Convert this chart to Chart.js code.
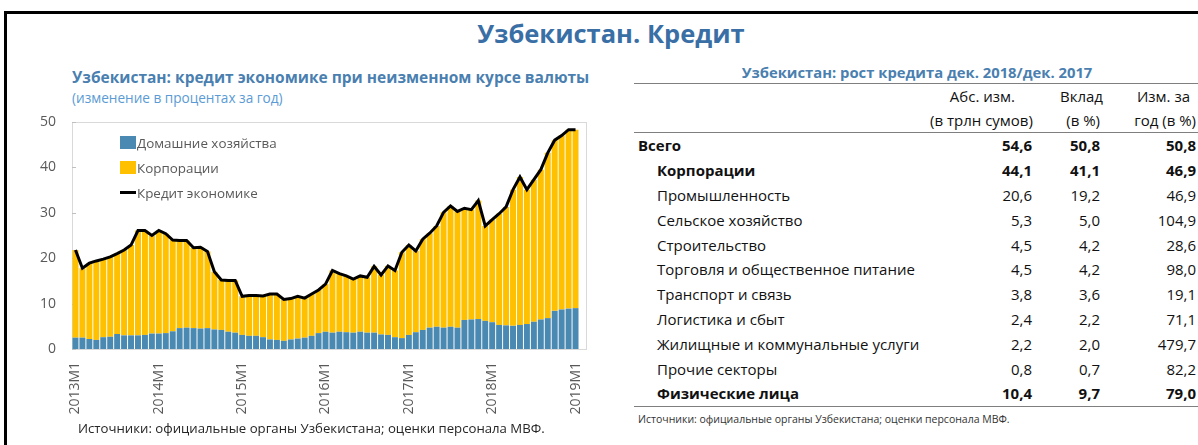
<!DOCTYPE html>
<html lang="ru">
<head>
<meta charset="utf-8">
<title>Узбекистан. Кредит</title>
<script src="https://cdn.jsdelivr.net/npm/chart.js@4.4.0/dist/chart.umd.min.js"></script>
<style>
    html, body { margin: 0; padding: 0; background: #fff; }
    body { width: 1198px; height: 445px; position: relative; overflow: hidden; font-family: "Open Sans", "Noto Sans", sans-serif; }
    #frame { position: absolute; left: 4px; top: 11px; width: 1200px; height: 440px; border-top: 3px solid #000; border-left: 3px solid #000; }
    #mainTitle { position: absolute; left: 0; width: 1222px; top: 16px; text-align: center; font-size: 25.5px; font-weight: bold; color: #3a6fa6; }
    #chartTitle { position: absolute; left: 72px; top: 66px; font-size: 15.5px; font-weight: bold; color: #4a7fb0; white-space: nowrap; }
    #chartSub { position: absolute; left: 72px; top: 88px; font-size: 13.6px; color: #5b9bd5; white-space: nowrap; }
    #chartBox { position: absolute; left: 0; top: 0; width: 600px; height: 445px; }
    #legend { position: absolute; left: 120px; top: 133px; font-size: 13.4px; color: #595959; }
    #legend div { height: 25px; line-height: 20px; white-space: nowrap; }
    #legend span.sw { display: inline-block; width: 16px; height: 13px; vertical-align: -1px; margin-right: 1px; }
    #legend span.ln { display: inline-block; width: 16px; height: 3px; background: #000; vertical-align: 4px; margin-right: 1px; }
    #chartSrc { position: absolute; left: 78px; top: 419px; font-size: 13.2px; color: #262626; white-space: nowrap; }
    #tblTitle { position: absolute; left: 634px; width: 566px; top: 62px; text-align: center; font-size: 14.8px; font-weight: bold; color: #4a7fb0; }
    #tbl { position: absolute; left: 634px; top: 83px; width: 564px; table-layout: fixed; border-collapse: collapse; font-size: 15px; color: #111; }
    #tbl td { padding: 0; height: 24.8px; text-align: right; white-space: nowrap; }
    #tbl thead td { height: 24px; }
    #tbl td.lab { text-align: left; padding-left: 23px; }
    #tbl tr.top td.lab { padding-left: 4px; }
    #tbl tr.b td { font-weight: bold; }
    #tbl tbody td.c2 { padding-right: 3px; }
    #tbl tbody td.c3 { padding-right: 2px; }
    #tbl thead tr:first-child td { border-top: 1.5px solid #7f7f7f; }
    #tbl thead tr:last-child td { border-bottom: 1.5px solid #7f7f7f; }
    #tbl tbody tr:last-child td { border-bottom: 1.5px solid #7f7f7f; }
    #tblSrc { position: absolute; left: 638px; top: 412px; font-size: 10.5px; color: #333; white-space: nowrap; }
</style>
</head>
<body>
<div id="frame"></div>
<div id="mainTitle">Узбекистан. Кредит</div>
<div id="chartTitle">Узбекистан: кредит экономике при неизменном курсе валюты</div>
<div id="chartSub">(изменение в процентах за год)</div>
<div id="chartBox"><canvas id="myChart"></canvas></div>
<div id="legend">
    <div><span class="sw" style="background:#4a89b1"></span>Домашние хозяйства</div>
    <div><span class="sw" style="background:#ffc000"></span>Корпорации</div>
    <div><span class="ln"></span>Кредит экономике</div>
</div>
<div id="chartSrc">Источники: официальные органы Узбекистана; оценки персонала МВФ.</div>

<div id="tblTitle">Узбекистан: рост кредита дек. 2018/дек. 2017</div>
<table id="tbl">
    <colgroup><col style="width:296px"><col style="width:102px"><col style="width:71px"><col style="width:95px"></colgroup>
    <thead>
        <tr><td></td><td style="padding-right:17px">Абс. изм.</td><td>Вклад</td><td style="padding-right:8px">Изм. за</td></tr>
        <tr><td></td><td>(в трлн сумов)</td><td style="padding-right:3px">(в %)</td><td style="padding-right:2px">год (в %)</td></tr>
    </thead>
    <tbody id="tblBody"></tbody>
</table>
<div id="tblSrc">Источники: официальные органы Узбекистана; оценки персонала МВФ.</div>

<script>
// годы и месяцы для оси X (2013M1 ... 2019M1)
var years = [2013, 2014, 2015, 2016, 2017, 2018, 2019];

// домашние хозяйства, % г/г
var households = [
    2.5, 2.5, 2.2, 2.0, 2.6, 2.7, 3.3, 3.0, 3.0, 3.0, 3.1, 3.4,
    3.4, 3.5, 3.9, 4.6, 4.7, 4.6, 4.5, 4.6, 4.3, 4.2, 3.8, 3.6,
    3.1, 2.9, 2.9, 2.6, 2.1, 2.0, 1.8, 2.1, 2.3, 2.5, 2.9, 3.5,
    3.8, 3.6, 3.8, 3.7, 3.6, 3.8, 3.6, 3.6, 3.2, 3.1, 2.6, 2.4,
    3.1, 3.7, 4.2, 4.7, 4.9, 4.7, 4.9, 4.7, 6.4, 6.5, 6.6, 6.2,
    5.9, 5.3, 5.2, 5.1, 5.3, 5.5, 6.0, 6.5, 6.8, 8.4, 8.7, 8.9,
    9.0
];

// корпорации, % г/г
var corporations = [
    19.3, 15.3, 16.7, 17.4, 17.2, 17.6, 17.7, 18.8, 19.9, 23.1, 23.0, 21.6,
    22.7, 21.9, 20.1, 19.3, 19.2, 17.7, 17.9, 16.9, 12.7, 11.0, 11.3, 11.5,
    8.5, 8.9, 8.9, 9.1, 10.0, 10.1, 9.1, 9.0, 9.3, 8.7, 9.2, 9.5,
    10.5, 13.7, 12.8, 12.4, 11.8, 12.3, 12.2, 14.6, 13.1, 15.2, 14.7, 18.9,
    19.8, 17.9, 20.0, 20.8, 22.2, 25.4, 26.6, 25.6, 24.6, 24.2, 26.1, 20.9,
    22.6, 24.5, 26.1, 30.0, 32.6, 29.6, 31.3, 33.0, 36.4, 37.6, 38.3, 39.4,
    39.3
];

// кредит экономике, % г/г
var totalCredit = [
    21.8, 17.8, 18.9, 19.4, 19.8, 20.3, 21.0, 21.8, 22.9, 26.1, 26.1, 25.0,
    26.1, 25.4, 24.0, 23.9, 23.9, 22.3, 22.4, 21.5, 17.0, 15.2, 15.1, 15.1,
    11.6, 11.8, 11.8, 11.7, 12.1, 12.1, 10.9, 11.1, 11.6, 11.2, 12.1, 13.0,
    14.3, 17.3, 16.6, 16.1, 15.4, 16.1, 15.8, 18.2, 16.3, 18.3, 17.3, 21.3,
    22.9, 21.6, 24.2, 25.5, 27.1, 30.1, 31.5, 30.3, 31.0, 30.7, 32.7, 27.1,
    28.5, 29.8, 31.3, 35.1, 37.9, 35.1, 37.3, 39.5, 43.2, 46.0, 47.0, 48.3,
    48.3
];

var yTicks = [0, 10, 20, 30, 40, 50];

// таблица
var tblRows = ['Всего', 'Корпорации', 'Промышленность', 'Сельское хозяйство', 'Строительство',
    'Торговля и общественное питание', 'Транспорт и связь', 'Логистика и сбыт',
    'Жилищные и коммунальные услуги', 'Прочие секторы', 'Физические лица'];
var absChange = ['54,6', '44,1', '20,6', '5,3', '4,5', '4,5', '3,8', '2,4', '2,2', '0,8', '10,4'];
var contribution = ['50,8', '41,1', '19,2', '5,0', '4,2', '4,2', '3,6', '2,2', '2,0', '0,7', '9,7'];
var yoyChange = ['50,8', '46,9', '46,9', '104,9', '28,6', '98,0', '19,1', '71,1', '479,7', '82,2', '79,0'];
var boldRows = [0, 1, 10];

var months = [];
years.forEach(function (y) {
    for (var m = 1; m <= 12; m++) {
        if (y === 2019 && m > 1) break;
        months.push(y + 'M' + m);
    }
});

var body = document.getElementById('tblBody');
tblRows.forEach(function (name, i) {
    var tr = document.createElement('tr');
    if (boldRows.indexOf(i) >= 0) tr.className = 'b';
    if (i === 0) tr.className += ' top';
    tr.innerHTML = '<td class="lab">' + name + '</td><td>' + absChange[i] + '</td><td class="c2">' +
        contribution[i] + '</td><td class="c3">' + yoyChange[i] + '</td>';
    body.appendChild(tr);
});

// рамка области построения (справа чуть шире, как в оригинале)
var plotFrame = {
    id: 'plotFrame',
    beforeDatasetsDraw: function (chart) {
        var a = chart.chartArea, c = chart.ctx;
        c.save();
        c.strokeStyle = '#d9d9d9';
        c.lineWidth = 1;
        c.strokeRect(a.left + 0.5, a.top + 0.5, a.right - a.left + 7, a.bottom - a.top);
        c.strokeStyle = '#bfbfbf';
        yTicks.forEach(function (t) {
            var y = Math.round(chart.scales.y.getPixelForValue(t)) + 0.5;
            c.beginPath();
            c.moveTo(a.left, y);
            c.lineTo(a.left + 4, y);
            c.stroke();
        });
        c.restore();
    }
};

var ctx = document.getElementById('myChart');
new Chart(ctx, {
    type: 'bar',
    data: {
        labels: months,
        datasets: [{
            type: 'line',
            label: 'Кредит экономике',
            data: totalCredit,
            borderColor: '#000',
            borderWidth: 3,
            pointRadius: 0,
            tension: 0,
            stack: 'total',
            order: 0
        }, {
            label: 'Домашние хозяйства',
            data: households,
            backgroundColor: '#4a89b1',
            stack: 'bars',
            barPercentage: 1,
            categoryPercentage: 0.86,
            order: 1
        }, {
            label: 'Корпорации',
            data: corporations,
            backgroundColor: '#ffc000',
            stack: 'bars',
            barPercentage: 1,
            categoryPercentage: 0.86,
            order: 1
        }]
    },
    options: {
        responsive: true,
        maintainAspectRatio: false,
        animation: false,
        layout: { padding: { left: 32, top: 122, right: 21, bottom: 26 } },
        plugins: { legend: { display: false }, tooltip: { enabled: false } },
        scales: {
            x: {
                stacked: true,
                grid: { display: false },
                border: { display: false },
                afterFit: function (s) { s.height = 70; },
                ticks: {
                    autoSkip: false,
                    minRotation: 90,
                    maxRotation: 90,
                    padding: 5,
                    color: '#595959',
                    font: { family: 'Open Sans', size: 14 },
                    callback: function (val, idx) {
                        return idx % 12 === 0 ? this.getLabelForValue(val) : null;
                    }
                }
            },
            y: {
                stacked: true,
                min: 0,
                max: 50,
                grid: { display: false },
                border: { display: false },
                afterFit: function (s) { s.width = 40; },
                ticks: {
                    stepSize: 10,
                    padding: 8,
                    color: '#595959',
                    font: { family: 'Open Sans', size: 14 }
                }
            }
        }
    },
    plugins: [plotFrame]
});
</script>
</body>
</html>
